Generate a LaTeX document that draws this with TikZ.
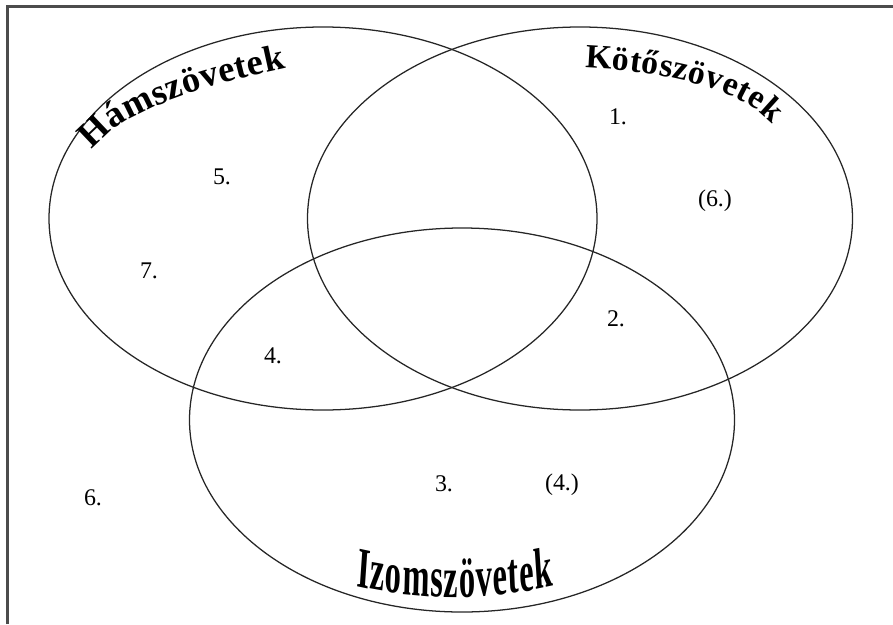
\documentclass[tikz,border=0pt]{standalone}
\usepackage{fontspec}
\setmainfont{Liberation Serif}
\usetikzlibrary{decorations.text}

\newcommand{\hamfont}{\fontsize{26}{26}\selectfont\bfseries}
\newcommand{\kotfont}{\fontsize{24}{24}\selectfont\bfseries}
\newcommand{\izomfont}{\fontsize{41}{41}\selectfont\bfseries}

\begin{document}
\begin{tikzpicture}[x=0.025cm, y=-0.025cm,
  tissue/.style={draw=black!85, line width=0.9pt},
  numlabel/.style={font=\fontsize{17}{20}\selectfont, inner sep=0pt},
  framestyle/.style={draw=black!70, line width=1.5pt},
  archtext/.style={decorate, decoration={text along path, text align={fit to path}, text={#1}}}
]
\useasboundingbox (0,0) rectangle (893,624);

% ---------- Frame ----------
\draw[framestyle] (7.5,624) -- (7.5,6.5) -- (893,6.5);

% ---------- Tissue sets ----------
\draw[tissue] (323,218.5) ellipse [x radius=274, y radius=191.5];
\draw[tissue] (580,218.5) ellipse [x radius=272.5, y radius=191.5];
\draw[tissue] (462,420) ellipse [x radius=272.5, y radius=192];

% ---------- Set titles ----------
\path[archtext={|\hamfont|Hámszövetek}]
  (92,150) .. controls (125,105) and (230,80) .. (286,68);
\path[archtext={|\kotfont|Kötőszövetek}]
  (585,68) .. controls (640,70) and (735,82) .. (772,124);
\begin{scope}[transform canvas={shift={(455,0)}, xscale=0.565}]
  \path[archtext={|\izomfont|Izomszövetek}]
    (-175,586) .. controls (-60,601) and (60,601) .. (175,586);
\end{scope}

% ---------- Numbers ----------
\node[numlabel] (n1) at (618,117) {1.};
\node[numlabel] (n6b) at (715,201) {(6.)};
\node[numlabel] (n5) at (222,177) {5.};
\node[numlabel] (n7) at (149,271) {7.};
\node[numlabel] (n2) at (616,319) {2.};
\node[numlabel] (n4) at (273,356) {4.};
\node[numlabel] (n6) at (93,498) {6.};
\node[numlabel] (n3) at (444,484) {3.};
\node[numlabel] (n4b) at (562,485) {(4.)};

\end{tikzpicture}
\end{document}
